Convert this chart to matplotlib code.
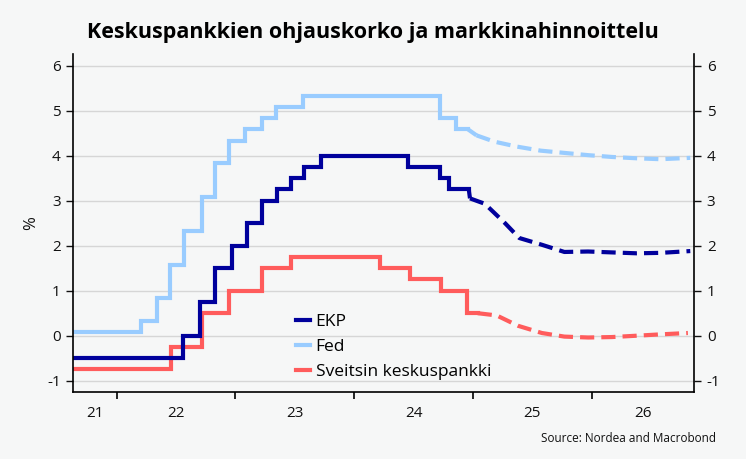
import matplotlib
matplotlib.use("Agg")
import matplotlib.pyplot as plt
from matplotlib.ticker import FixedLocator, NullFormatter

plt.rcParams['font.family'] = ['Open Sans', 'DejaVu Sans']
plt.rcParams['axes.unicode_minus'] = False

# --- data (dates as fractional years) ---
ekp_dates = [2021.65, 2022.56, 2022.70, 2022.83, 2022.97, 2023.10, 2023.22, 2023.35,
             2023.47, 2023.58, 2023.72, 2024.45, 2024.72, 2024.80, 2024.965]
ekp_rates = [-0.50, 0.00, 0.75, 1.50, 2.00, 2.50, 3.00, 3.25,
             3.50, 3.75, 4.00, 3.75, 3.50, 3.25, 3.25]
ekp_tail_dates = [2024.965, 2024.975]
ekp_tail_rates = [3.25, 3.05]
ekp_fc_dates = [2024.975, 2025.10, 2025.27, 2025.39, 2025.58, 2025.77, 2025.97,
                2026.17, 2026.38, 2026.58, 2026.83]
ekp_fc_rates = [3.05, 2.93, 2.50, 2.17, 2.02, 1.86, 1.87, 1.85, 1.83, 1.84, 1.88]

fed_dates = [2021.65, 2022.205, 2022.34, 2022.45, 2022.57, 2022.72, 2022.83, 2022.95,
             2023.08, 2023.22, 2023.34, 2023.57, 2024.72, 2024.86, 2024.96]
fed_rates = [0.08, 0.33, 0.83, 1.58, 2.33, 3.08, 3.83, 4.33,
             4.58, 4.83, 5.08, 5.33, 4.83, 4.58, 4.58]
fed_tail_dates = [2024.96, 2025.03]
fed_tail_rates = [4.58, 4.45]
fed_fc_dates = [2025.03, 2025.18, 2025.37, 2025.57, 2025.77, 2025.97, 2026.17,
                2026.38, 2026.58, 2026.83]
fed_fc_rates = [4.45, 4.31, 4.20, 4.11, 4.06, 4.01, 3.97, 3.94, 3.92, 3.95]

snb_dates = [2021.65, 2022.46, 2022.72, 2022.95, 2023.22, 2023.47, 2024.22,
             2024.47, 2024.73, 2024.95, 2025.04]
snb_rates = [-0.75, -0.25, 0.50, 1.00, 1.50, 1.75, 1.50, 1.25, 1.00, 0.50, 0.50]
snb_fc_dates = [2025.04, 2025.20, 2025.38, 2025.58, 2025.77, 2025.97, 2026.17,
                2026.38, 2026.58, 2026.81]
snb_fc_rates = [0.50, 0.45, 0.22, 0.06, -0.02, -0.04, -0.03, 0.00, 0.03, 0.06]

labels = ['EKP', 'Fed', 'Sveitsin keskuspankki']
colors = ['#00009c', '#99ccff', '#ff5c5c']
year_ticks = [2022, 2023, 2024, 2025, 2026]
year_labels = ['21', '22', '23', '24', '25', '26']
y_ticks = [-1, 0, 1, 2, 3, 4, 5, 6]
x_min, x_max = 2021.635, 2026.864

bg = '#f6f7f7'
fig = plt.figure(figsize=(7.46, 4.59), dpi=100, facecolor=bg)
ax = fig.add_axes([0.0983, 0.146, 0.8324, 0.7357])
ax.set_facecolor(bg)

lw = 3.0
dash = (3.4, 1.7)
series = [
    (ekp_dates, ekp_rates, ekp_tail_dates, ekp_tail_rates, ekp_fc_dates, ekp_fc_rates),
    (fed_dates, fed_rates, fed_tail_dates, fed_tail_rates, fed_fc_dates, fed_fc_rates),
    (snb_dates, snb_rates, None, None, snb_fc_dates, snb_fc_rates),
]
# draw in order SNB, Fed, EKP so that EKP sits on top
for i in [2, 1, 0]:
    d, r, td, tr, fd, fr = series[i]
    c = colors[i]
    ax.step(d, r, where='post', color=c, lw=lw, solid_joinstyle='miter', label=labels[i])
    if td is not None:
        ax.plot(td, tr, color=c, lw=lw, solid_capstyle='butt')
    ax.plot(fd, fr, color=c, lw=lw, dashes=dash, dash_capstyle='butt')

ax.set_xlim(x_min, x_max)
ax.set_ylim(-1.25, 6.25)

# gridlines
ax.set_yticks(y_ticks)
ax.grid(axis='y', color='#d6d6d6', lw=1.0)
ax.set_axisbelow(True)

# x axis: ticks at year boundaries, labels centered in visible part of each year
ax.xaxis.set_major_locator(FixedLocator(year_ticks))
ax.xaxis.set_major_formatter(NullFormatter())
edges = [x_min] + year_ticks + [x_max]
centers = [(edges[k] + edges[k + 1]) / 2 for k in range(len(edges) - 1)]
ax.set_xticks(centers, minor=True)
ax.set_xticklabels(year_labels, minor=True)
ax.tick_params(axis='x', which='major', length=5, width=1.2, direction='out')
ax.tick_params(axis='x', which='minor', length=0, pad=10, labelsize=11, colors='#111111')

ax.tick_params(axis='y', length=5, width=1, direction='out', labelsize=11, pad=4,
               labelright=True, right=True, colors='#111111')
for sp in ['left', 'right', 'bottom']:
    ax.spines[sp].set_color('black')
    ax.spines[sp].set_linewidth(1.2)
ax.spines['top'].set_visible(False)

ax.set_ylabel('%', fontsize=12, labelpad=6, color='#111111')

handles, labs = ax.get_legend_handles_labels()
order = [labs.index(l) for l in labels]
leg = ax.legend([handles[k] for k in order], [labs[k] for k in order],
                loc='upper left', bbox_to_anchor=(0.358, 0.232), frameon=False,
                fontsize=12.5, handlelength=0.85, handletextpad=0.3,
                labelspacing=0.52, borderpad=0, borderaxespad=0)

fig.text(0.5, 0.918, 'Keskuspankkien ohjauskorko ja markkinahinnoittelu',
         ha='center', va='baseline', fontsize=15.5, fontweight='bold', color='black')
fig.text(0.96, 0.037, 'Source: Nordea and Macrobond', ha='right', va='baseline',
         fontsize=8.5, color='#111111')

fig.savefig('out.png', dpi=100, facecolor=bg)
